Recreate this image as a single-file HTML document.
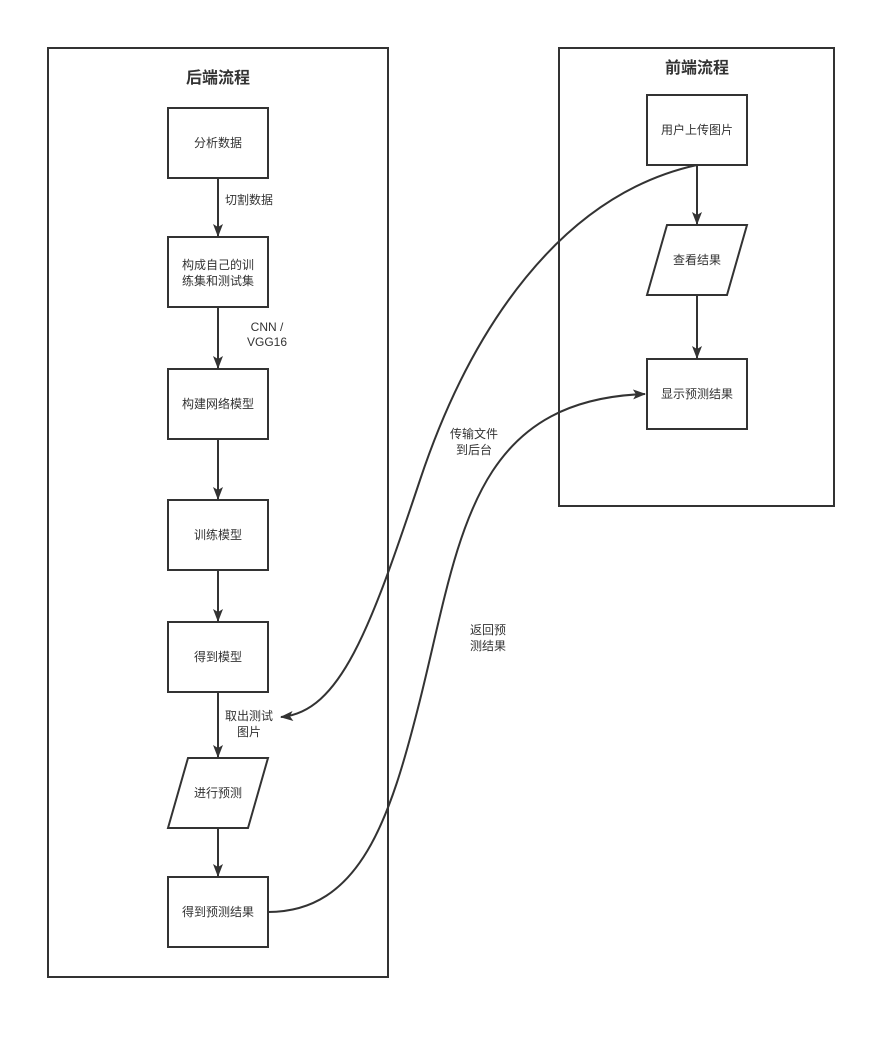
<!DOCTYPE html>
<html><head><meta charset="utf-8"><style>
html,body{margin:0;padding:0;background:#fff;}
svg{display:block;}
text{font-family:"Liberation Sans","Noto Sans CJK SC",sans-serif;fill:#333;font-size:12px;text-anchor:middle;dominant-baseline:middle;}
.t{font-size:16px;font-weight:bold;}
</style></head><body>
<svg width="896" height="1040" viewBox="0 0 896 1040" xmlns="http://www.w3.org/2000/svg">
<defs><marker id="a" markerWidth="14" markerHeight="12" refX="12" refY="5" orient="auto" markerUnits="userSpaceOnUse"><path d="M0,0 L13,5 L0,10 L3,5 Z" fill="#333"/></marker></defs>
<g fill="none" stroke="#333" stroke-width="2">
<rect x="48" y="48" width="340" height="929"/>
<rect x="559" y="48" width="275" height="458"/>
<rect x="168" y="108" width="100" height="70"/>
<rect x="168" y="237" width="100" height="70"/>
<rect x="168" y="369" width="100" height="70"/>
<rect x="168" y="500" width="100" height="70"/>
<rect x="168" y="622" width="100" height="70"/>
<polygon points="188,758 268,758 248,828 168,828"/>
<rect x="168" y="877" width="100" height="70"/>
<rect x="647" y="95" width="100" height="70"/>
<polygon points="667,225 747,225 727,295 647,295"/>
<rect x="647" y="359" width="100" height="70"/>
<g marker-end="url(#a)">
<line x1="218" y1="178" x2="218" y2="236"/>
<line x1="218" y1="307" x2="218" y2="368"/>
<line x1="218" y1="439" x2="218" y2="499"/>
<line x1="218" y1="570" x2="218" y2="621"/>
<line x1="218" y1="692" x2="218" y2="757"/>
<line x1="218" y1="828" x2="218" y2="876"/>
<line x1="697" y1="165" x2="697" y2="224"/>
<line x1="697" y1="295" x2="697" y2="358"/>
<path d="M697,165 C560,195 470,330 420,480 C370,630 340,712 281,717"/>
<path d="M268,912 C360,912 390,820 420,700 C460,540 470,400 645,394"/>
</g>
</g>
<g dy="1">
<text class="t" x="218" y="79">后端流程</text>
<text class="t" x="697" y="69">前端流程</text>
<text x="218" y="144">分析数据</text>
<text x="218" y="266">构成自己的训</text>
<text x="218" y="282">练集和测试集</text>
<text x="218" y="405">构建网络模型</text>
<text x="218" y="536">训练模型</text>
<text x="218" y="658">得到模型</text>
<text x="218" y="794">进行预测</text>
<text x="218" y="913">得到预测结果</text>
<text x="697" y="131">用户上传图片</text>
<text x="697" y="261">查看结果</text>
<text x="697" y="395">显示预测结果</text>
<text x="249" y="201">切割数据</text>
<text x="267" y="328">CNN /</text>
<text x="267" y="343">VGG16</text>
<text x="249" y="717">取出测试</text>
<text x="249" y="733">图片</text>
<text x="474" y="435">传输文件</text>
<text x="474" y="451">到后台</text>
<text x="488" y="631">返回预</text>
<text x="488" y="647">测结果</text>
</g>
</svg>
</body></html>
